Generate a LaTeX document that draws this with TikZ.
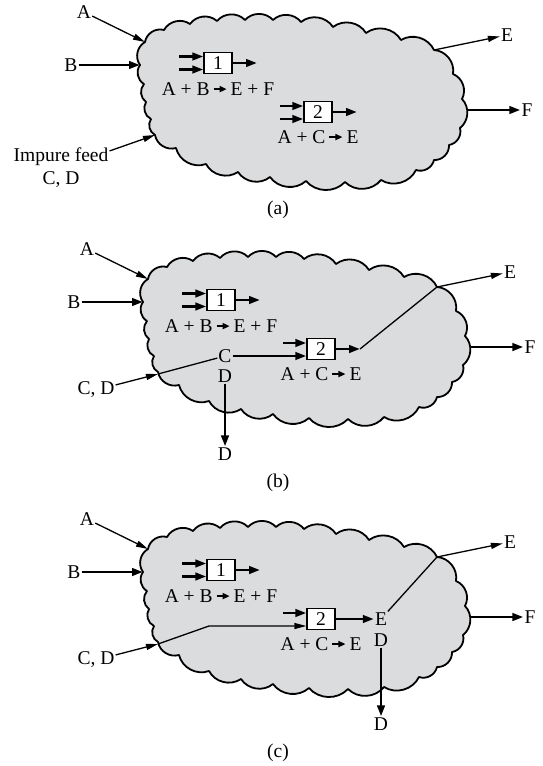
\documentclass[tikz,border=0pt]{standalone}
\usepackage{fontspec}
\setmainfont{Liberation Serif}
\usetikzlibrary{arrows.meta}
\definecolor{cloudgray}{RGB}{219,220,222}
\newcommand\rarr{\tikz[x=1pt,y=1pt,baseline=-6.3pt]\draw[line width=1.6pt,-{Triangle[length=7pt,width=6pt]}](0,0)--(13,0);}
\newcommand\drawcloud{\path[cloudline] (145,42) to[sc] (164,30) to[sc] (190,24) to[sc] (217,21) to[sc] (245,20) to[sc] (273,20) to[sc] (301,22) to[sc] (333,27) to[sc] (366,33) to[sc] (401,40) to[sc] (434,50) to[sc] (453,74) to[sc] (462,99) to[sc] (460,128) to[sc] (449,145) to[sc] (434,160) to[sc] (416,170) to[sc] (381,180) to[sc] (345,182) to[sc] (306,181) to[sc] (270,177) to[sc] (238,172) to[sc] (206,164) to[sc] (176,148) to[sc] (155,135) to[sc] (151,119) to[sc] (146,102) to[sc] (144,84) to[sc] (140,65) to[sc] (145,42) -- cycle;}
\tikzset{
  sc/.style={bend left=48},
  cloudline/.style={draw=black, fill=cloudgray, line width=1.8pt, line join=round},
  lbl/.style={inner sep=1pt, font=\fontsize{19.5}{23}\selectfont},
  rbox/.style={draw, line width=1.3pt, fill=white, minimum width=28pt, minimum height=21pt, inner sep=0pt, font=\fontsize{19.5}{23}\selectfont},
  thinarr/.style={line width=1.3pt, -{Triangle[length=12pt,width=6pt]}},
  thickarr/.style={line width=2.6pt, -{Triangle[length=11pt,width=7.5pt]}},
  thinline/.style={line width=1.3pt}
}
\begin{document}
\begin{tikzpicture}[x=1pt,y=-1pt]
\useasboundingbox (0,0) rectangle (543,766);
% ---------------- panel (a)
\begin{scope}
\drawcloud
\coordinate (a-cA) at (145,42);
\coordinate (a-cB) at (140,65);
\coordinate (a-cI) at (155,135);
\coordinate (a-cE) at (434,50);
\coordinate (a-cF) at (467,110);
\node[lbl] (a-A) at (84,12) {A};
\node[lbl] (a-B) at (71,65) {B};
\node[lbl, align=center] (a-I) at (61,168) {Impure feed\\C, D};
\node[lbl] (a-E) at (507,35) {E};
\node[lbl] (a-F) at (527,110) {F};
\node[rbox] (a-b1) at (218,63) {1};
\node[rbox] (a-b2) at (318,112) {2};
\node[lbl] (a-r1) at (218,89) {A + B\,\rarr\,E + F};
\node[lbl] (a-r2) at (318,137) {A + C\,\rarr\,E};
\node[lbl] (a-cap) at (278,210) {(a)};
\draw[thinarr] (a-A) -- (a-cA);
\draw[thickarr] (a-B) -- (a-cB);
\draw[thinarr] (a-I) -- (a-cI);
\draw[thinarr] (a-cE) -- (a-E);
\draw[thickarr] (a-cF) -- (a-F);
\coordinate (a-i1) at (179,56.5);
\coordinate (a-i2) at (179,69.5);
\coordinate (a-o1) at (257,63);
\draw[thickarr] (a-i1) -- (a-i1 -| a-b1.west);
\draw[thickarr] (a-i2) -- (a-i2 -| a-b1.west);
\draw[thickarr] (a-b1) -- (a-o1);
\coordinate (a-i3) at (280,106);
\coordinate (a-i4) at (280,119);
\coordinate (a-o2) at (357,112);
\draw[thickarr] (a-i3) -- (a-i3 -| a-b2.west);
\draw[thickarr] (a-i4) -- (a-i4 -| a-b2.west);
\draw[thickarr] (a-b2) -- (a-o2);
\end{scope}
% ---------------- panel (b)
\begin{scope}[shift={(3,237)}]
\drawcloud
\coordinate (b-cA) at (145,42);
\coordinate (b-cB) at (140,65);
\coordinate (b-cI) at (155,137);
\coordinate (b-cE) at (434,50);
\coordinate (b-cF) at (467,110);
\node[lbl] (b-A) at (84,12) {A};
\node[lbl] (b-B) at (71,65) {B};
\node[lbl] (b-CD) at (93,153) {C, D};
\node[lbl] (b-E) at (507,35) {E};
\node[lbl] (b-F) at (527,110) {F};
\node[rbox] (b-b1) at (218,63) {1};
\node[rbox] (b-b2) at (318,112) {2};
\node[lbl] (b-r1) at (218,89) {A + B\,\rarr\,E + F};
\node[lbl] (b-r2) at (318,137) {A + C\,\rarr\,E};
\node[lbl] (b-C) at (222,119) {C};
\node[lbl] (b-D) at (222,139) {D};
\node[lbl] (b-D2) at (222,217) {D};
\node[lbl] (b-cap) at (275,246) {(b)};
\draw[thinarr] (b-A) -- (b-cA);
\draw[thickarr] (b-B) -- (b-cB);
\draw[thickarr] (b-cF) -- (b-F);
\coordinate (b-i1) at (179,56.5);
\coordinate (b-i2) at (179,69.5);
\coordinate (b-o1) at (257,63);
\draw[thickarr] (b-i1) -- (b-i1 -| b-b1.west);
\draw[thickarr] (b-i2) -- (b-i2 -| b-b1.west);
\draw[thickarr] (b-b1) -- (b-o1);
\coordinate (b-i3) at (280,106);
\coordinate (b-o2) at (357,112);
\draw[thickarr] (b-i3) -- (b-i3 -| b-b2.west);
\draw[thinarr] (b-CD) -- (b-cI);
\draw[thinline] (b-cI) -- (b-C);
\draw[thickarr] (b-C) -- (b-C -| b-b2.west);
\draw[thickarr] (b-b2) -- (b-o2);
\draw[thinarr] (b-o2) -- (b-cE) -- (b-E);
\draw[thickarr] (b-D) -- (b-D2);
\end{scope}
% ---------------- panel (c)
\begin{scope}[shift={(3,507)}]
\drawcloud
\coordinate (c-cA) at (145,42);
\coordinate (c-cB) at (140,65);
\coordinate (c-cI) at (155,137);
\coordinate (c-cE) at (434,50);
\coordinate (c-cF) at (467,110);
\coordinate (c-k) at (206,119);
\node[lbl] (c-A) at (84,12) {A};
\node[lbl] (c-B) at (71,65) {B};
\node[lbl] (c-CD) at (93,153) {C, D};
\node[lbl] (c-E) at (507,35) {E};
\node[lbl] (c-F) at (527,110) {F};
\node[rbox] (c-b1) at (218,63) {1};
\node[rbox] (c-b2) at (318,112) {2};
\node[lbl] (c-r1) at (218,89) {A + B\,\rarr\,E + F};
\node[lbl] (c-r2) at (318,137) {A + C\,\rarr\,E};
\node[lbl] (c-Em) at (378,112) {E};
\node[lbl] (c-D) at (378,133) {D};
\node[lbl] (c-D2) at (378,217) {D};
\node[lbl] (c-cap) at (275,246) {(c)};
\draw[thinarr] (c-A) -- (c-cA);
\draw[thickarr] (c-B) -- (c-cB);
\draw[thickarr] (c-cF) -- (c-F);
\coordinate (c-i1) at (179,56.5);
\coordinate (c-i2) at (179,69.5);
\coordinate (c-o1) at (257,63);
\draw[thickarr] (c-i1) -- (c-i1 -| c-b1.west);
\draw[thickarr] (c-i2) -- (c-i2 -| c-b1.west);
\draw[thickarr] (c-b1) -- (c-o1);
\coordinate (c-i3) at (280,106);
\draw[thickarr] (c-i3) -- (c-i3 -| c-b2.west);
\draw[thinarr] (c-CD) -- (c-cI);
\draw[thinarr] (c-cI) -- (c-k) -- (c-k -| c-b2.west);
\draw[thickarr] (c-b2) -- (c-Em);
\draw[thinarr] (c-Em) -- (c-cE) -- (c-E);
\draw[thickarr] (c-D) -- (c-D2);
\end{scope}
\end{tikzpicture}
\end{document}
